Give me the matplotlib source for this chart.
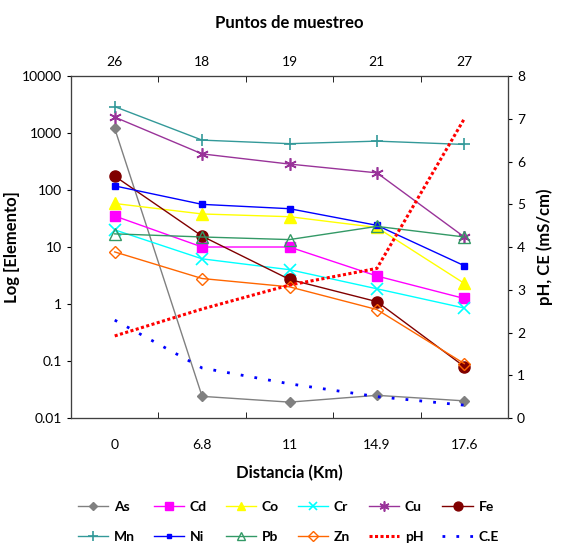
import matplotlib
matplotlib.use('Agg')
import matplotlib.pyplot as plt
import numpy as np

plt.rcParams['font.family'] = ['Lato', 'DejaVu Sans']

distancia = ['0', '6.8', '11', '14.9', '17.6']
puntos = ['26', '18', '19', '21', '27']

As = [1200, 0.024, 0.019, 0.025, 0.02]
Cd = [35, 10, 10, 3.1, 1.25]
Co = [58, 38, 34, 22, 2.3]
Cr = [20, 6.2, 4.0, 1.85, 0.85]
Cu = [1900, 430, 285, 200, 15]
Fe = [175, 15.5, 2.7, 1.1, 0.08]
Mn = [2900, 750, 650, 720, 630]
Ni = [118, 56, 47, 24, 4.7]
Pb = [17, 15, 13.5, 23, 15]
Zn = [8.2, 2.8, 2.0, 0.8, 0.09]
pH = [1.92, 2.55, 3.11, 3.5, 7.0]
CE = [2.29, 1.17, 0.8, 0.5, 0.3]

x = np.arange(len(distancia))

fig = plt.figure(figsize=(5.61, 5.46), dpi=100)
ax = fig.add_axes([0.1266, 0.2344, 0.7789, 0.6264])

series = [
    ('As', As, dict(color='#808080', marker='D', ms=5, mfc='#808080')),
    ('Cd', Cd, dict(color='#FF00FF', marker='s', ms=7, mfc='#FF00FF')),
    ('Co', Co, dict(color='#FFFF00', marker='^', ms=8, mfc='#FFFF00')),
    ('Cr', Cr, dict(color='#00FFFF', marker='x', ms=8, mew=1.2)),
    ('Cu', Cu, dict(color='#993399', marker=(6, 2, 0), ms=9, mew=1.2)),
    ('Fe', Fe, dict(color='#800000', marker='o', ms=8, mfc='#800000')),
    ('Mn', Mn, dict(color='#339999', marker='+', ms=9, mew=1.2)),
    ('Ni', Ni, dict(color='#0000FF', marker='s', ms=4, mfc='#0000FF')),
    ('Pb', Pb, dict(color='#339966', marker='^', ms=8, mfc='none')),
    ('Zn', Zn, dict(color='#FF6600', marker='D', ms=6, mfc='none')),
]

handles = {}
for name, vals, st in series:
    h, = ax.plot(x, vals, lw=1, label=name, **st)
    handles[name] = h

ax.set_yscale('log')
ax.set_ylim(0.01, 10000)
ax.set_xlim(-0.5, 4.5)
ax.set_yticks([0.01, 0.1, 1, 10, 100, 1000, 10000])
ax.set_yticklabels(['0.01', '0.1', '1', '10', '100', '1000', '10000'])
ax.minorticks_off()
ax.set_xticks(x)
ax.set_xticklabels(distancia)
ax.set_xticks(np.arange(0.5, 4.5, 1), minor=True)
ax.tick_params(axis='x', which='major', length=0, labelsize=10, pad=15)
ax.tick_params(axis='x', which='minor', direction='in', length=4)
ax.tick_params(axis='y', direction='out', length=3, labelsize=10)
ax.set_xlabel('Distancia (Km)', fontsize=12, fontweight='bold', labelpad=10)
ax.set_ylabel('Log [Elemento]', fontsize=12, fontweight='bold', labelpad=1)

ax2 = ax.twinx()
h, = ax2.plot(x, pH, color='#FF0000', lw=2.2, linestyle=(0, (1, 0.8)), label='pH')
handles['pH'] = h
h, = ax2.plot(x, CE, color='#0000FF', lw=2, linestyle=(0, (1, 4)), label='C.E')
handles['C.E'] = h
ax2.set_ylim(0, 8)
ax2.set_yticks(range(0, 9))
ax2.tick_params(axis='y', direction='out', length=3, labelsize=10)
ax2.set_ylabel('pH, CE (mS/cm)', fontsize=12, fontweight='bold', labelpad=8)

ax3 = ax.twiny()
ax3.set_xlim(-0.5, 4.5)
ax3.set_xticks(x)
ax3.set_xticklabels(puntos)
ax3.set_xticks(np.arange(0.5, 4.5, 1), minor=True)
ax3.tick_params(axis='x', which='major', length=0, labelsize=10, pad=6)
ax3.tick_params(axis='x', which='minor', direction='in', length=4)
ax3.set_xlabel('Puntos de muestreo', fontsize=12, fontweight='bold', labelpad=20)

for a in (ax, ax2, ax3):
    for s in a.spines.values():
        s.set_color('#404040')

order = ['As', 'Mn', 'Cd', 'Ni', 'Co', 'Pb', 'Cr', 'Zn', 'Cu', 'pH', 'Fe', 'C.E']
leg = fig.legend([handles[k] for k in order], order, ncol=6, loc='center',
                 bbox_to_anchor=(0.514, 0.044), frameon=False,
                 prop={'weight': 'bold', 'size': 10}, handlelength=2.2,
                 columnspacing=1.35, handletextpad=0.4, labelspacing=1.35,
                 markerscale=0.8)

fig.savefig('out.png', dpi=100)
